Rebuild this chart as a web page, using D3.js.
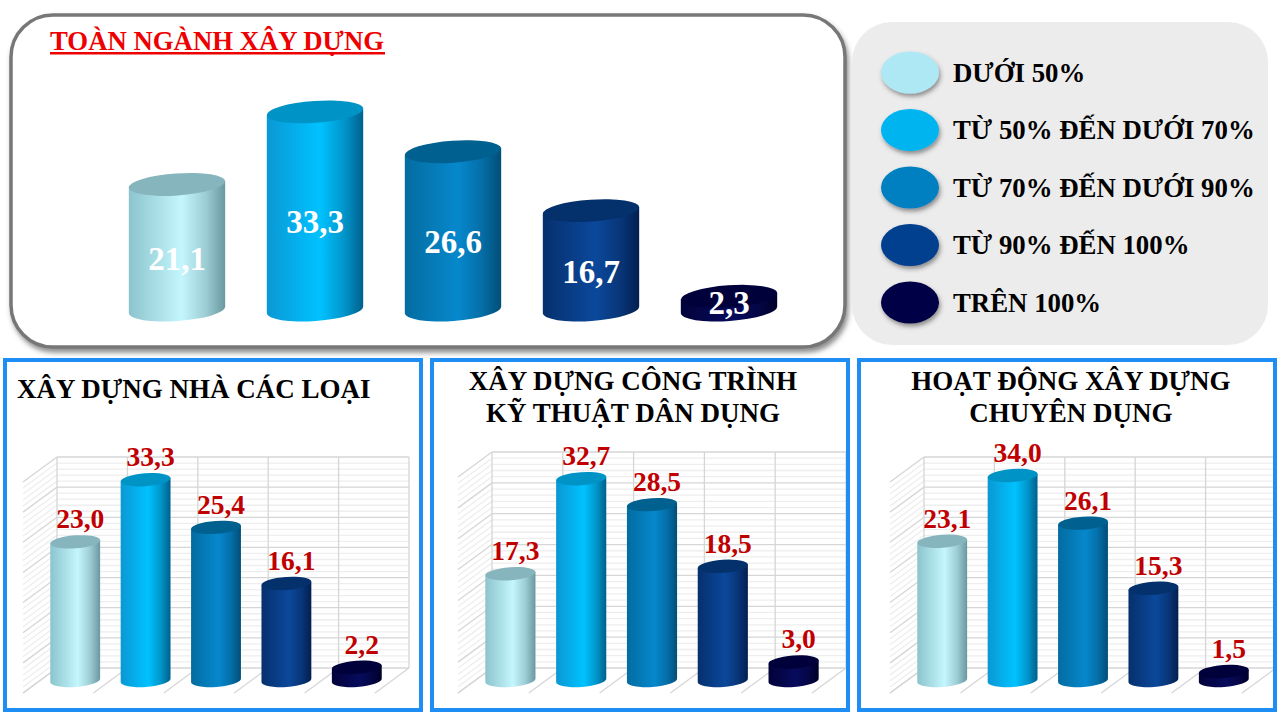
<!DOCTYPE html>
<html>
<head>
<meta charset="utf-8">
<script src="https://cdn.jsdelivr.net/npm/d3@7"></script>
<style>
  body { margin: 0; background: #fff; }
  text { font-family: "Liberation Serif", "Times New Roman", serif; font-weight: bold; }
</style>
</head>
<body>
<script>
// data
const categories = ["DƯỚI 50%", "TỪ 50% ĐẾN DƯỚI 70%", "TỪ 70% ĐẾN DƯỚI 90%", "TỪ 90% ĐẾN 100%", "TRÊN 100%"];
const toanNganh = [21.1, 33.3, 26.6, 16.7, 2.3];
const nhaCacLoai = [23.0, 33.3, 25.4, 16.1, 2.2];
const kyThuatDanDung = [17.3, 32.7, 28.5, 18.5, 3.0];
const chuyenDung = [23.1, 34.0, 26.1, 15.3, 1.5];
const yMax = 35;

// colours: body gradient left / light / right, lid colour, legend colour
const bodyLeft = ["#8cc4cd", "#0a98d4", "#046ca0", "#06306e", "#02023a"];
const bodyLight = ["#c4f6fd", "#00c2ff", "#0688cd", "#0b489b", "#070b5c"];
const bodyRight = ["#6a98a1", "#00608c", "#024e78", "#041f50", "#000028"];
const lidColor = ["#86b5bd", "#0094c6", "#00608f", "#04316b", "#00003a"];
const legendColor = ["#aee8f4", "#00b4ef", "#0080c0", "#00408f", "#000046"];

const fmt = d3.formatLocale({ decimal: ",", thousands: ".", grouping: [3], currency: ["", ""] }).format(".1f");

const svg = d3.select('body').append('svg')
    .attr('width', 1280)
    .attr('height', 720);

const defs = svg.append('defs');
categories.forEach((c, i) => {
    const g = defs.append('linearGradient').attr('id', 'cyl' + i)
        .attr('x1', 0).attr('x2', 1).attr('y1', 0).attr('y2', 0);
    g.append('stop').attr('offset', '0%').attr('stop-color', bodyLeft[i]);
    g.append('stop').attr('offset', '55%').attr('stop-color', bodyLight[i]);
    g.append('stop').attr('offset', '80%').attr('stop-color', d3.interpolateRgb(bodyLight[i], bodyRight[i])(0.45));
    g.append('stop').attr('offset', '100%').attr('stop-color', bodyRight[i]);
});
const panelShadow = defs.append('filter').attr('id', 'panelShadow')
    .attr('x', '-5%').attr('y', '-5%').attr('width', '110%').attr('height', '115%');
panelShadow.append('feDropShadow').attr('dx', 2).attr('dy', 4).attr('stdDeviation', 2.5)
    .attr('flood-color', '#444').attr('flood-opacity', 0.6);
const dotShadow = defs.append('filter').attr('id', 'dotShadow')
    .attr('x', '-30%').attr('y', '-30%').attr('width', '160%').attr('height', '170%');
dotShadow.append('feDropShadow').attr('dx', 1.5).attr('dy', 3).attr('stdDeviation', 2)
    .attr('flood-color', '#333').attr('flood-opacity', 0.5);

const tilt = 4 * Math.PI / 180;

// cylinder: centre x, top centre y, base centre y
function cylinderPath(cx, ty, by, rx, ry) {
    const ex = rx * Math.cos(tilt), ey = rx * Math.sin(tilt);
    const deg = -tilt * 180 / Math.PI;
    return `M${cx - ex},${ty + ey} L${cx - ex},${by + ey} ` +
        `A${rx},${ry} ${deg} 0 0 ${cx + ex},${by - ey} L${cx + ex},${ty - ey} Z`;
}

function drawCylinders(g, values, cxOf, yTop, yBase, rx, ry) {
    const bars = g.selectAll('g.bar').data(values).enter().append('g').attr('class', 'bar');
    bars.append('path')
        .attr('d', (d, i) => cylinderPath(cxOf(i), yTop(d), yBase, rx, ry))
        .attr('fill', (d, i) => `url(#cyl${i})`);
    bars.append('ellipse')
        .attr('cx', (d, i) => cxOf(i))
        .attr('cy', d => yTop(d))
        .attr('rx', rx).attr('ry', ry)
        .attr('transform', (d, i) => `rotate(${-tilt * 180 / Math.PI},${cxOf(i)},${yTop(d)})`)
        .attr('fill', (d, i) => lidColor[i]);
    return bars;
}

// ---------- top panel: toàn ngành ----------
svg.append('rect')
    .attr('x', 11).attr('y', 15).attr('width', 834).attr('height', 332)
    .attr('rx', 42).attr('ry', 42)
    .attr('fill', '#fff').attr('stroke', '#777').attr('stroke-width', 3.5)
    .attr('filter', 'url(#panelShadow)');

svg.append('text')
    .attr('x', 50).attr('y', 50)
    .attr('font-size', 27).attr('fill', '#ee0000')
    .attr('textLength', 334).attr('lengthAdjust', 'spacingAndGlyphs')
    .text('TOÀN NGÀNH XÂY DỰNG');
svg.append('rect').attr('x', 50).attr('y', 52).attr('width', 335).attr('height', 2.5).attr('fill', '#ee0000');

const xTop = d3.scaleBand().domain(categories).range([108, 798]).paddingInner(0.3).paddingOuter(0.15);
const yTopScale = d3.scaleLinear().domain([0, yMax]).range([310, 310 - yMax * 5.95]);
const topG = svg.append('g');
const topCx = i => xTop(categories[i]) + xTop.bandwidth() / 2;
const topBars = drawCylinders(topG, toanNganh, topCx, yTopScale, yTopScale(0), xTop.bandwidth() / 2, 11);
topBars.append('text')
    .attr('x', (d, i) => topCx(i))
    .attr('y', d => {
        const h = yTopScale(0) - yTopScale(d);
        const mid = (yTopScale(d) + yTopScale(0)) / 2;
        return mid + (h < 30 ? -1 : 11) + 11.5;
    })
    .attr('text-anchor', 'middle')
    .attr('font-size', 33).attr('fill', '#fff')
    .text(d => fmt(d));

// ---------- legend ----------
svg.append('rect')
    .attr('x', 852).attr('y', 22).attr('width', 416).attr('height', 323)
    .attr('rx', 40).attr('ry', 40).attr('fill', '#ececec');
const yLegend = d3.scalePoint().domain(categories).range([72.5, 302.5]);
const legendRows = svg.append('g').selectAll('g').data(categories).enter().append('g');
legendRows.append('ellipse')
    .attr('cx', 910).attr('cy', d => yLegend(d))
    .attr('rx', 29).attr('ry', 21)
    .attr('fill', (d, i) => legendColor[i])
    .attr('filter', 'url(#dotShadow)');
legendRows.append('text')
    .attr('x', 953).attr('y', d => yLegend(d) + 9)
    .attr('font-size', 26.8).attr('fill', '#000')
    .text(d => d);

// ---------- bottom panels ----------
const panels = [
    { x: 5, values: nhaCacLoai, title: ["XÂY DỰNG NHÀ CÁC LOẠI"], anchor: 'start', tx: 17, ty: [398],
      wall: { x0: 57, x1: 409, top: 457 } },
    { x: 432, values: kyThuatDanDung, title: ["XÂY DỰNG CÔNG TRÌNH", "KỸ THUẬT DÂN DỤNG"], anchor: 'middle', tx: 633, ty: [390, 422],
      wall: { x0: 492, x1: 846, top: 452 } },
    { x: 859, values: chuyenDung, title: ["HOẠT ĐỘNG XÂY DỰNG", "CHUYÊN DỤNG"], anchor: 'middle', tx: 1071, ty: [390, 422],
      wall: { x0: 924, x1: 1276, top: 457 } }
];
const wallBottom = 668, depthX = -34, depthY = 25;

panels.forEach(p => {
    const g = svg.append('g');
    const x = d3.scaleBand().domain(categories).range([p.wall.x0, p.wall.x1]).paddingInner(0.29).paddingOuter(0.145);
    const y = d3.scaleLinear().domain([0, yMax]).range([wallBottom, p.wall.top]);
    const grid = g.append('g');
    const minor = y.ticks(35).filter(t => t % 5 !== 0);
    const major = y.ticks(7);
    [[minor, '#eeeeee'], [major, '#d6d6d6']].forEach(([ticks, col]) => {
        grid.selectAll(null).data(ticks).enter().append('line')
            .attr('x1', p.wall.x0).attr('x2', p.wall.x1)
            .attr('y1', d => y(d)).attr('y2', d => y(d))
            .attr('stroke', col).attr('stroke-width', 1.3);
        grid.selectAll(null).data(ticks).enter().append('line')
            .attr('x1', p.wall.x0).attr('x2', p.wall.x0 + depthX)
            .attr('y1', d => y(d)).attr('y2', d => y(d) + depthY)
            .attr('stroke', col).attr('stroke-width', 1.3);
    });
    const gap = (x.step() - x.bandwidth()) / 2;
    const bounds = categories.map(c => x(c) - gap).concat([p.wall.x1]);
    grid.selectAll(null).data(bounds).enter().append('line')
        .attr('x1', d => d).attr('x2', d => d)
        .attr('y1', y(yMax)).attr('y2', y(0))
        .attr('stroke', '#d6d6d6').attr('stroke-width', 1.3);
    grid.selectAll(null).data(bounds).enter().append('line')
        .attr('x1', d => d).attr('x2', d => d + depthX)
        .attr('y1', y(0)).attr('y2', y(0) + depthY)
        .attr('stroke', '#d6d6d6').attr('stroke-width', 1.3);

    const cx = i => x(categories[i]) + x.bandwidth() / 2 + depthX / 2;
    const yBar = v => y(v) + depthY / 2;
    const bars = drawCylinders(g, p.values, cx, yBar, yBar(0), x.bandwidth() / 2, 6.5);
    bars.append('text')
        .attr('x', (d, i) => cx(i) + 5)
        .attr('y', d => yBar(d) - 13.5)
        .attr('text-anchor', 'middle')
        .attr('font-size', 27.5).attr('fill', '#c00000')
        .text(d => fmt(d));

    g.append('rect')
        .attr('x', p.x).attr('y', 360).attr('width', 416).attr('height', 350)
        .attr('fill', 'none').attr('stroke', '#1e8ef5').attr('stroke-width', 4);

    g.selectAll('text.title').data(p.title).enter().append('text')
        .attr('class', 'title')
        .attr('x', p.tx).attr('y', (d, i) => p.ty[i])
        .attr('text-anchor', p.anchor)
        .attr('font-size', 27).attr('fill', '#000')
        .text(d => d);
});
</script>
</body>
</html>
